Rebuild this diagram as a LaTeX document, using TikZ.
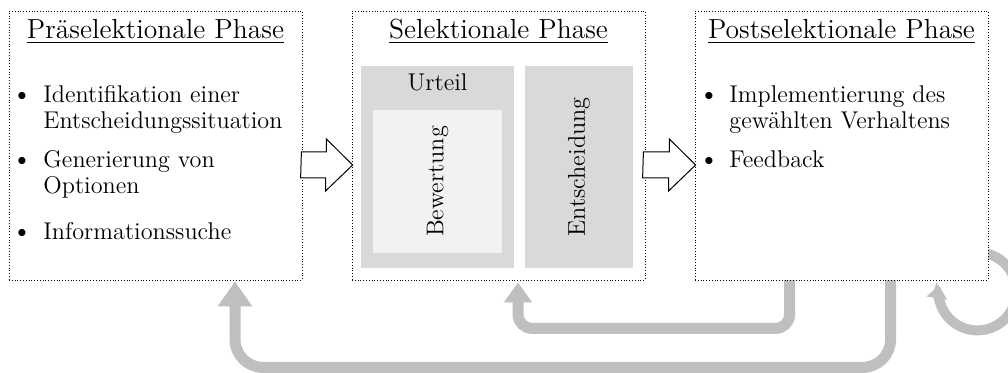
\documentclass[tikz,border=0pt]{standalone}
\usepackage{fontspec}
\usetikzlibrary{arrows.meta,calc}
\definecolor{feedgray}{HTML}{BFBFBF}
\definecolor{panelgray}{HTML}{D9D9D9}
\definecolor{innergray}{HTML}{F2F2F2}
\tikzset{
  phase/.style={draw=black, densely dotted, line width=0.4pt, fill=white,
    inner sep=0pt, minimum width=146.5pt, minimum height=134.5pt},
  phasetitle/.style={font=\fontsize{13.8}{16}\selectfont, anchor=base, inner sep=0pt},
  itemtext/.style={font=\fontsize{12.1}{13}\selectfont, anchor=base west, inner sep=0pt},
  bulletmark/.style={font=\fontsize{9}{13}\selectfont, anchor=base, inner sep=0pt},
  panel/.style={fill=panelgray, inner sep=0pt},
  innerpanel/.style={fill=innergray, inner sep=0pt},
  paneltext/.style={font=\fontsize{12.1}{13}\selectfont, inner sep=0pt},
  blockarr/.style={draw=black, line width=0.5pt, fill=white, line join=miter},
  fb/.style={draw=feedgray, line width=5.5pt},
}
\newcommand{\itembox}[1]{\parbox[t]{160pt}{\raggedright #1}}
\begin{document}
\begin{tikzpicture}[x=0.5pt, y=-0.5pt]
\useasboundingbox (0,0) rectangle (1008,373);
\clip (0,0) rectangle (1008,373);

% phase boxes (positions only, drawn later on top of the feedback arrows)
\path (155.5,145.5) coordinate (cpre)
      (498.5,145.5) coordinate (csel)
      (841.5,145.5) coordinate (cpost);
\path (cpre)  node[minimum width=146.5pt, minimum height=134.5pt, inner sep=0pt] (pre) {};
\path (csel)  node[minimum width=146.5pt, minimum height=134.5pt, inner sep=0pt] (sel) {};
\path (cpost) node[minimum width=146.5pt, minimum height=134.5pt, inner sep=0pt] (post) {};

% feedback arrows
\coordinate (m1) at ($(post.south west)+(95,-4)$);
\coordinate (m2) at ($(sel.south)+(19.5,2)$);
\draw[fb, rounded corners=7pt, -{Triangle[width=13.5pt,length=10pt]}]
  (m1) |- ($(m2)+(0,46)$) -- (m2);

\coordinate (b1) at ($(post.south west)+(196,-4)$);
\coordinate (b2) at ($(pre.south)+(79.5,1)$);
\draw[fb, rounded corners=14pt, -{Triangle[width=16.5pt,length=12.5pt]}]
  (b1) |- ($(b2)+(0,86)$) -- (b2);

\coordinate (lc) at ($(post.south east)+(-11,11)$);
\draw[fb, line width=5pt, -{Triangle[width=10pt,length=6.5pt]}]
  ($(lc)+(-110:39)$) arc[start angle=-110, end angle=189, radius=39];

% phase boxes
\node[phase] (preBox)  at (pre)  {};
\node[phase] (selBox)  at (sel)  {};
\node[phase] (postBox) at (post) {};

% titles
\node[phasetitle] (t1) at (155.5,39) {\underline{Präselektionale Phase}};
\node[phasetitle] (t2) at (498.5,39) {\underline{Selektionale Phase}};
\node[phasetitle] (t3) at (841.5,39) {\underline{Postselektionale Phase}};

% pre-selection items
\node[bulletmark] (d1) at (22,101) {$\bullet$};
\node[itemtext]   (i1) at (43,103) {\itembox{Identifikation einer\\Entscheidungssituation}};
\node[bulletmark] (d2) at (22,166) {$\bullet$};
\node[itemtext]   (i2) at (43,168) {\itembox{Generierung von\\Optionen}};
\node[bulletmark] (d3) at (22,238) {$\bullet$};
\node[itemtext]   (i3) at (43,240) {\itembox{Informationssuche}};

% selection panels
\node[panel, minimum width=76.5pt, minimum height=101pt] (urteil) at (437.5,167) {};
\node[paneltext, anchor=base] (urteilT) at (437.5,91) {Urteil};
\node[innerpanel, minimum width=64.5pt, minimum height=71.5pt] (bewertung) at (437.5,181.5) {};
\node[paneltext, rotate=90] (bewertungT) at (bewertung) {Bewertung};
\node[panel, minimum width=54pt, minimum height=101pt] (entscheidung) at (579,167) {};
\node[paneltext, rotate=90] (entscheidungT) at (entscheidung) {Entscheidung};

% post-selection items
\node[bulletmark] (d4) at (709,101) {$\bullet$};
\node[itemtext]   (i4) at (729,103) {\itembox{Implementierung des\\gewählten Verhaltens}};
\node[bulletmark] (d5) at (709,166) {$\bullet$};
\node[itemtext]   (i5) at (729,168) {\itembox{Feedback}};

% block arrows between the phases
\draw[blockarr] ($(pre.east)+(-1,6.5)$) -- ++(25,0) -- ++(0,-13)
  -- ($(sel.west)+(1,19.5)$) -- ++(-27,26) -- ++(0,-13) -- ++(-25,0) -- cycle;
\draw[blockarr] ($(sel.east)+(-2,6.5)$) -- ++(26,0) -- ++(0,-13)
  -- ($(post.west)+(1,19.5)$) -- ++(-27,26) -- ++(0,-13) -- ++(-26,0) -- cycle;
\end{tikzpicture}
\end{document}
